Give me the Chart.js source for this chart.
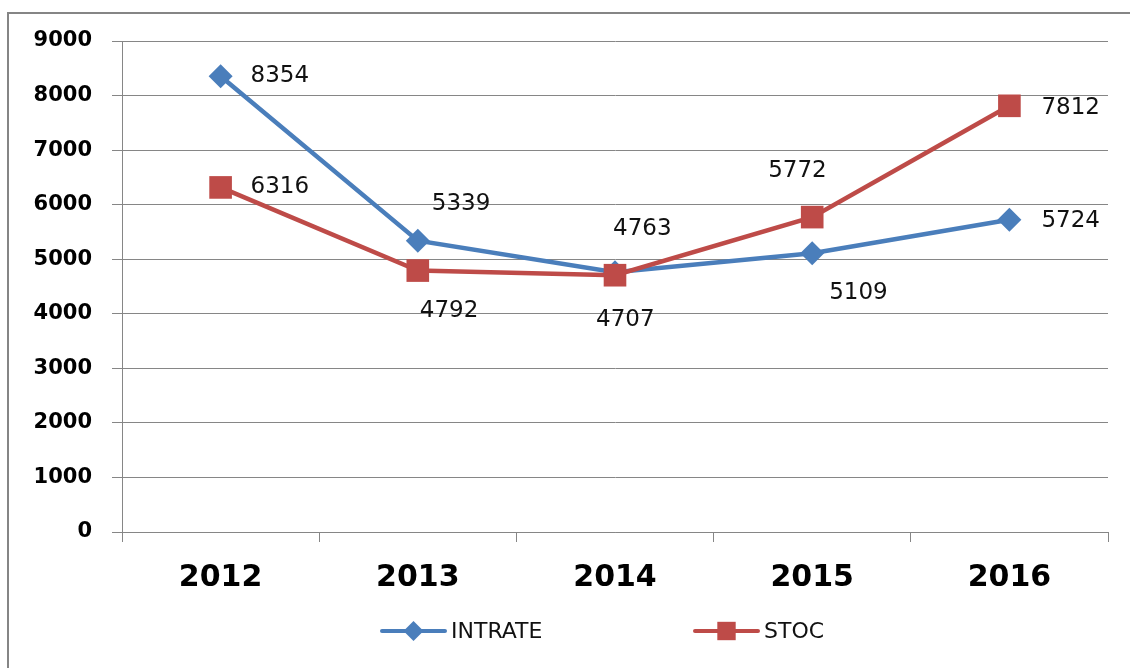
<!DOCTYPE html>
<html>
<head>
<meta charset="utf-8">
<script src="https://cdn.jsdelivr.net/npm/chart.js@4/dist/chart.umd.min.js"></script>
<style>
  body { margin: 0; background: #fff; }
  canvas { display: block; }
</style>
</head>
<body>
<canvas id="lineChart" width="1130" height="668"></canvas>
<script>
"use strict"

// chart data
// -----------------
var years = ['2012', '2013', '2014', '2015', '2016'];
var intrate = [8354, 5339, 4763, 5109, 5724];
var stoc = [6316, 4792, 4707, 5772, 7812];
var yTicks = [0, 1000, 2000, 3000, 4000, 5000, 6000, 7000, 8000, 9000];

var blue = '#4a7ebb';
var red = '#be4b48';

// where each value label sits, relative to its point
var intrateLabelShift = [[30, 0], [14, -37], [-2, -43], [17, 40], [32, 1]];
var stocLabelShift = [[30, 0], [2, 40], [-19, 45], [-44, -46], [32, 2]];

// grey frame round the chart (left and top edges)
var framePlugin = {
    id: 'frame',
    beforeDraw: function(chart) {
        var ctx = chart.ctx;
        ctx.save();
        ctx.strokeStyle = '#858585';
        ctx.lineWidth = 2;
        ctx.beginPath();
        ctx.moveTo(8, 668);
        ctx.lineTo(8, 13);
        ctx.lineTo(1130, 13);
        ctx.stroke();
        ctx.restore();
    }
};

// value labels next to the points
var valueLabels = {
    id: 'valueLabels',
    afterDatasetsDraw: function(chart) {
        var ctx = chart.ctx;
        var shifts = [intrateLabelShift, stocLabelShift];
        ctx.save();
        ctx.font = '23px "DejaVu Sans"';
        ctx.fillStyle = '#111';
        ctx.textAlign = 'left';
        ctx.textBaseline = 'middle';
        chart.data.datasets.forEach(function(ds, i) {
            chart.getDatasetMeta(i).data.forEach(function(pt, j) {
                var s = shifts[i][j];
                ctx.fillText(String(ds.data[j]), pt.x + s[0], pt.y + s[1]);
            });
        });
        ctx.restore();
    }
};

// legend: short line with the marker on it, then the name
var lineLegend = {
    id: 'lineLegend',
    afterDraw: function(chart) {
        var ctx = chart.ctx;
        var items = [
            { x: 382, label: 'INTRATE', color: blue, style: 'rectRot', radius: 10 },
            { x: 695, label: 'STOC', color: red, style: 'rect', radius: 13 }
        ];
        var y = 631;
        ctx.save();
        items.forEach(function(it) {
            ctx.strokeStyle = it.color;
            ctx.lineWidth = 4;
            ctx.lineCap = 'round';
            ctx.beginPath();
            ctx.moveTo(it.x, y);
            ctx.lineTo(it.x + 63, y);
            ctx.stroke();
            ctx.fillStyle = it.color;
            Chart.helpers.drawPoint(ctx, { pointStyle: it.style, radius: it.radius, borderWidth: 0 }, it.x + 31.5, y);
            ctx.fillStyle = '#111';
            ctx.font = '22px "DejaVu Sans"';
            ctx.textBaseline = 'middle';
            ctx.fillText(it.label, it.x + 69, y + 1);
        });
        ctx.restore();
    }
};

var data = {
    labels: years,
    datasets: [{
        label: 'INTRATE',
        data: intrate,
        order: 2,
        borderColor: blue,
        backgroundColor: blue,
        borderWidth: 4.5,
        pointStyle: 'rectRot',
        pointRadius: 12,
        pointBorderWidth: 0,
        tension: 0
    }, {
        label: 'STOC',
        data: stoc,
        order: 1,   // red series sits on top of the blue one
        borderColor: red,
        backgroundColor: red,
        borderWidth: 4.5,
        pointStyle: 'rect',
        pointRadius: 16,
        pointBorderWidth: 0,
        tension: 0
    }]
};

new Chart(document.getElementById('lineChart'), {
    type: 'line',
    data: data,
    plugins: [framePlugin, valueLabels, lineLegend],
    options: {
        responsive: false,
        animation: false,
        devicePixelRatio: 1,
        layout: {
            padding: { left: 10, top: 41, right: 22, bottom: 56 }
        },
        plugins: {
            legend: { display: false },
            tooltip: { enabled: false }
        },
        scales: {
            x: {
                offset: true,
                grid: {
                    offset: true,
                    drawOnChartArea: false,
                    drawTicks: true,
                    tickLength: 10,
                    color: '#868686'
                },
                border: { color: '#868686', width: 1 },
                ticks: {
                    color: '#000',
                    padding: 18,
                    maxRotation: 0,
                    font: { family: 'DejaVu Sans', size: 30, weight: 'bold' }
                },
                afterFit: function(scale) { scale.height = 80; }
            },
            y: {
                min: 0,
                max: 9000,
                afterBuildTicks: function(scale) {
                    scale.ticks = yTicks.map(function(v) { return { value: v }; });
                },
                grid: {
                    color: '#868686',
                    tickLength: 10
                },
                border: { color: '#868686', width: 1 },
                ticks: {
                    color: '#000',
                    padding: 20,
                    font: { family: 'DejaVu Sans', size: 21, weight: 'bold' },
                    callback: function(value) { return String(value); }
                },
                afterFit: function(scale) { scale.width = 112; }
            }
        }
    }
});
</script>
</body>
</html>
